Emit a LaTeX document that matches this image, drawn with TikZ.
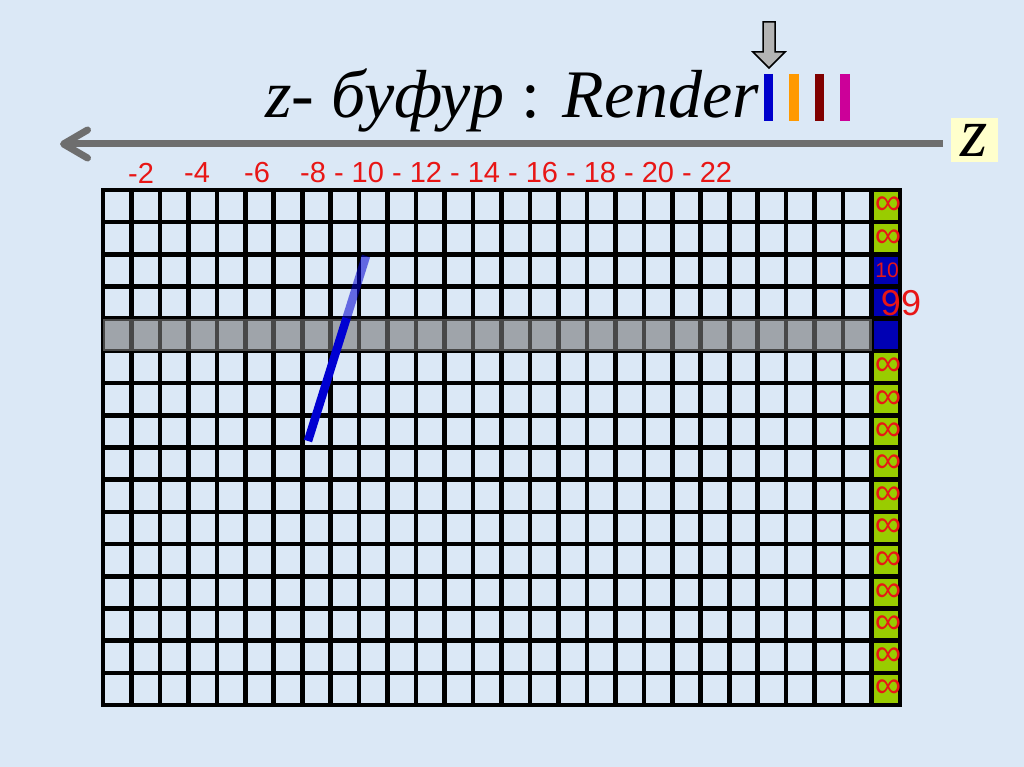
\documentclass[tikz,border=0pt]{standalone}
\usepackage{fontspec}
\setmainfont{Liberation Serif}
\setsansfont{Liberation Sans}
\usetikzlibrary{arrows.meta}

\definecolor{bgblue}{RGB}{219,232,246}
\definecolor{zred}{RGB}{232,22,22}
\definecolor{zgreen}{RGB}{153,204,0}
\definecolor{cellblue}{RGB}{0,0,180}
\definecolor{penblue}{RGB}{0,0,210}
\definecolor{bandgray}{RGB}{120,120,120}
\definecolor{axisgray}{RGB}{110,110,110}
\definecolor{arrowgray}{RGB}{180,180,180}
\definecolor{zyellow}{RGB}{255,255,204}
\definecolor{barblue}{RGB}{0,0,204}
\definecolor{barorange}{RGB}{255,153,0}
\definecolor{bardark}{RGB}{128,0,0}
\definecolor{barmagenta}{RGB}{204,0,153}

\begin{document}
\begin{tikzpicture}[x=1pt,y=-1pt,
   gridline/.style={line width=4.6pt,line cap=rect},
   zlabel/.style={text=zred,inner sep=0pt,
    font=\sffamily\fontsize{29}{29}\selectfont},
   infty/.style={text=zred,inner sep=0pt,
    font=\sffamily\fontsize{37}{37}\selectfont},
   colbar/.style={line width=9.5pt}
    ]

    \useasboundingbox (0,0) rectangle (1024,767);
    \fill[bgblue] (0,0) rectangle (1024,767);

    % Title:
    \node[anchor=base west,inner sep=0pt,
      font=\fontsize{68}{68}\selectfont\itshape] (title) at (265,118)
      {z- буфур {\upshape :} Render};

    % colour bars:
    \draw[colbar,barblue] (768.5,74) -- (768.5,121);
    \draw[colbar,barorange] (794,74) -- (794,121);
    \draw[colbar,bardark] (819.5,74) -- (819.5,121);
    \draw[colbar,barmagenta] (845,74) -- (845,121);

    % pointer above the first bar:
    \draw[fill=arrowgray,line width=1.5pt] (763,22) -- (775,22) -- (775,52)
      -- (785,52) -- (769,68) -- (753,52) -- (763,52) -- cycle;

    % z axis:
    \node[fill=zyellow,minimum width=47pt,minimum height=44pt,inner sep=0pt,
      font=\fontsize{70}{70}\selectfont\itshape] (zbox) at (974.5,140) {z};
    \coordinate (zstart) at (943,144);
    \coordinate (ztip) at (60,144);
    \draw[axisgray,line width=7pt,
      -{Straight Barb[length=24pt,width=28pt,round]}] (zstart) -- (ztip);

    % depth labels:
    \node[zlabel] (m2) at (141,173) {-2};
    \node[zlabel] (m4) at (197,173) {-4};
    \node[zlabel] (m6) at (257,173) {-6};
    \node[zlabel,anchor=west] (m8) at (300,173)
      {-8 - 10 - 12 - 14 - 16 - 18 - 20 - 22};

    % buffer grid:
    \begin{scope}[shift={(103,190)},x=28.464pt,y=-32.1875pt]
      \fill[zgreen] (27,0) rectangle (28,2);
      \fill[zgreen] (27,5) rectangle (28,16);
      \fill[cellblue] (27,2) rectangle (28,5);
      \foreach \c in {0,...,28} \draw[gridline] (\c,0) -- (\c,16);
      \foreach \r in {0,...,16} \draw[gridline] (0,\r) -- (28,\r);
      \fill[bandgray,opacity=0.6] (0,4) rectangle (27,5);

      % z values:
      \node[infty] (inf0) at (27.58,0.5) {∞};
      \node[infty] (inf1) at (27.58,1.5) {∞};
      \node[infty] (inf5) at (27.58,5.5) {∞};
      \node[infty] (inf6) at (27.58,6.5) {∞};
      \node[infty] (inf7) at (27.58,7.5) {∞};
      \node[infty] (inf8) at (27.58,8.5) {∞};
      \node[infty] (inf9) at (27.58,9.5) {∞};
      \node[infty] (inf10) at (27.58,10.5) {∞};
      \node[infty] (inf11) at (27.58,11.5) {∞};
      \node[infty] (inf12) at (27.58,12.5) {∞};
      \node[infty] (inf13) at (27.58,13.5) {∞};
      \node[infty] (inf14) at (27.58,14.5) {∞};
      \node[infty] (inf15) at (27.58,15.5) {∞};
    \end{scope}

    \node[text=zred,inner sep=0pt,
      font=\sffamily\fontsize{21}{21}\selectfont] (ten) at (887,270) {10};
    \node[text=zred,inner sep=0pt,
      font=\sffamily\fontsize{36}{36}\selectfont] (nn) at (901,303) {99};

    % primitive:
    \coordinate (pentop) at (366,256);
    \coordinate (penmid) at (346.6,318);
    \coordinate (penbot) at (308,441);
    \draw[penblue,line width=8.5pt,opacity=0.55] (pentop) -- (penmid);
    \draw[penblue,line width=8.5pt] (penmid) -- (penbot);

\end{tikzpicture}
\end{document}
